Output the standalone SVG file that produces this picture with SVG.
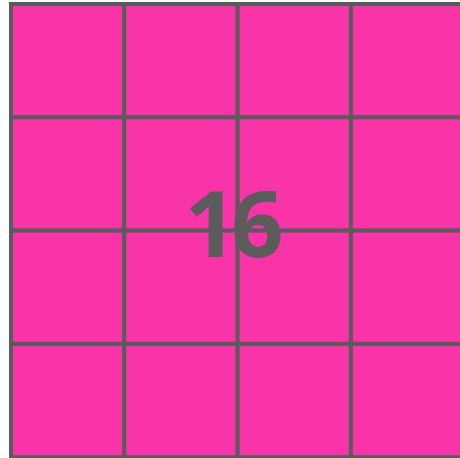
<svg xmlns="http://www.w3.org/2000/svg" width="460" height="458" viewBox="0 0 460 458">
<style>
.c{fill:#f933a8;stroke:#5b5b5b;stroke-width:4}
.t{fill:#5b5b5b;font-family:"Open Sans","DejaVu Sans",sans-serif;font-weight:700;font-size:92px}
</style>
<rect width="460" height="458" fill="#ffffff"/>
<g id="grid">
<rect class="c" x="11" y="4" width="113.3" height="113.3"/>
<rect class="c" x="124.3" y="4" width="113.3" height="113.3"/>
<rect class="c" x="237.6" y="4" width="113.3" height="113.3"/>
<rect class="c" x="350.9" y="4" width="113.3" height="113.3"/>
<rect class="c" x="11" y="117.3" width="113.3" height="113.3"/>
<rect class="c" x="124.3" y="117.3" width="113.3" height="113.3"/>
<rect class="c" x="237.6" y="117.3" width="113.3" height="113.3"/>
<rect class="c" x="350.9" y="117.3" width="113.3" height="113.3"/>
<rect class="c" x="11" y="230.6" width="113.3" height="113.3"/>
<rect class="c" x="124.3" y="230.6" width="113.3" height="113.3"/>
<rect class="c" x="237.6" y="230.6" width="113.3" height="113.3"/>
<rect class="c" x="350.9" y="230.6" width="113.3" height="113.3"/>
<rect class="c" x="11" y="343.9" width="113.3" height="113.3"/>
<rect class="c" x="124.3" y="343.9" width="113.3" height="113.3"/>
<rect class="c" x="237.6" y="343.9" width="113.3" height="113.3"/>
<rect class="c" x="350.9" y="343.9" width="113.3" height="113.3"/>
</g>
<g id="label">
<text class="t" x="231" y="257" text-anchor="middle" letter-spacing="-6">16</text>
</g>
</svg>
